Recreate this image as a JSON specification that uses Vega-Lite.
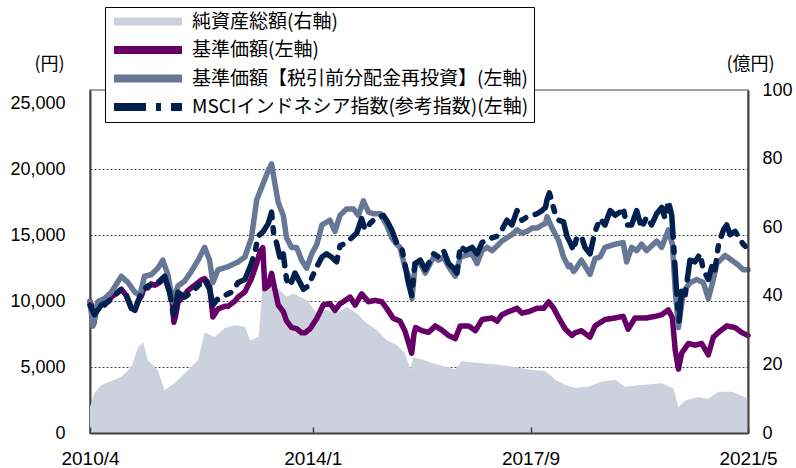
{
  "$schema": "https://vega.github.io/schema/vega-lite/v6.json",
  "width": 658,
  "height": 343,
  "autosize": {"type": "none"},
  "padding": {"left": 90, "top": 90, "right": 48, "bottom": 35},
  "background": "white",
  "config": {
    "font": "Liberation Sans",
    "view": {"stroke": "#a0a0a0", "strokeWidth": 2},
    "axis": {
      "labelFont": "Liberation Sans",
      "labelFontSize": 18,
      "labelColor": "#000000",
      "titleFont": "Noto Sans CJK JP",
      "titleFontSize": 18,
      "titleFontWeight": "normal",
      "titleColor": "#000000",
      "domainColor": "#404040",
      "domainWidth": 2
    }
  },
  "datasets": {
    "netAssets": [
      {"date": "2010-04-01", "value": 7.6}, {"date": "2010-04-29", "value": 11.7}, {"date": "2010-06-10", "value": 14}, {"date": "2010-08-31", "value": 15.5},
      {"date": "2010-10-11", "value": 16.4}, {"date": "2010-12-11", "value": 19.2}, {"date": "2011-01-22", "value": 25}, {"date": "2011-02-22", "value": 26.5},
      {"date": "2011-03-22", "value": 21.3}, {"date": "2011-05-23", "value": 18.4}, {"date": "2011-07-04", "value": 12.5}, {"date": "2011-09-04", "value": 14.6},
      {"date": "2011-11-25", "value": 18.4}, {"date": "2012-01-26", "value": 21.3}, {"date": "2012-03-06", "value": 29.4}, {"date": "2012-05-07", "value": 28},
      {"date": "2012-07-08", "value": 30.6}, {"date": "2012-09-08", "value": 31.5}, {"date": "2012-11-09", "value": 31}, {"date": "2012-12-11", "value": 27},
      {"date": "2013-02-01", "value": 28}, {"date": "2013-02-21", "value": 39.7}, {"date": "2013-03-02", "value": 48}, {"date": "2013-04-02", "value": 43.7},
      {"date": "2013-05-02", "value": 42.7}, {"date": "2013-06-12", "value": 41.7}, {"date": "2013-07-23", "value": 39.7}, {"date": "2013-09-03", "value": 40.7},
      {"date": "2013-10-14", "value": 39.7}, {"date": "2013-11-24", "value": 38.8}, {"date": "2014-01-26", "value": 34.9}, {"date": "2014-03-26", "value": 35.9},
      {"date": "2014-05-27", "value": 34.9}, {"date": "2014-07-27", "value": 36.8}, {"date": "2014-09-28", "value": 34.9}, {"date": "2014-11-28", "value": 32},
      {"date": "2015-01-29", "value": 30}, {"date": "2015-03-31", "value": 27.1}, {"date": "2015-05-31", "value": 25.7}, {"date": "2015-07-21", "value": 23.3},
      {"date": "2015-08-25", "value": 18.5}, {"date": "2015-09-10", "value": 22}, {"date": "2015-11-04", "value": 21.4}, {"date": "2016-01-04", "value": 20.4},
      {"date": "2016-03-25", "value": 19.4}, {"date": "2016-05-26", "value": 18.5}, {"date": "2016-07-06", "value": 20.9}, {"date": "2016-10-17", "value": 20.4},
      {"date": "2017-02-19", "value": 19.9}, {"date": "2017-05-10", "value": 19.4}, {"date": "2017-08-21", "value": 18.5}, {"date": "2017-12-02", "value": 18},
      {"date": "2018-02-02", "value": 15.5}, {"date": "2018-04-03", "value": 14}, {"date": "2018-06-03", "value": 13.2}, {"date": "2018-08-22", "value": 13.5},
      {"date": "2018-11-13", "value": 15}, {"date": "2019-02-04", "value": 15.5}, {"date": "2019-04-05", "value": 13.5}, {"date": "2019-07-16", "value": 14},
      {"date": "2019-11-17", "value": 14.5}, {"date": "2020-01-28", "value": 13}, {"date": "2020-02-28", "value": 7.6}, {"date": "2020-04-09", "value": 9.5},
      {"date": "2020-06-29", "value": 10.5}, {"date": "2020-08-30", "value": 10}, {"date": "2020-11-01", "value": 12}, {"date": "2021-01-21", "value": 12},
      {"date": "2021-04-12", "value": 10.5}, {"date": "2021-05-01", "value": 10}
    ],
    "nav": [
      {"date": "2010-04-01", "value": 10000}, {"date": "2010-04-12", "value": 9600}, {"date": "2010-04-25", "value": 8300}, {"date": "2010-05-10", "value": 9500},
      {"date": "2010-05-25", "value": 9800}, {"date": "2010-06-10", "value": 9900}, {"date": "2010-06-30", "value": 9700}, {"date": "2010-07-20", "value": 10000},
      {"date": "2010-08-10", "value": 10300}, {"date": "2010-08-31", "value": 10500}, {"date": "2010-10-11", "value": 10900}, {"date": "2010-11-11", "value": 10400},
      {"date": "2010-12-11", "value": 9500}, {"date": "2011-01-02", "value": 9300}, {"date": "2011-01-22", "value": 10000}, {"date": "2011-02-12", "value": 10400},
      {"date": "2011-03-02", "value": 11100}, {"date": "2011-03-22", "value": 11000}, {"date": "2011-04-13", "value": 11300}, {"date": "2011-05-03", "value": 11200},
      {"date": "2011-06-03", "value": 11400}, {"date": "2011-07-04", "value": 11800}, {"date": "2011-07-24", "value": 11100}, {"date": "2011-08-18", "value": 10200},
      {"date": "2011-08-30", "value": 8400}, {"date": "2011-09-10", "value": 8900}, {"date": "2011-09-24", "value": 9900}, {"date": "2011-10-14", "value": 10200},
      {"date": "2011-11-05", "value": 10500}, {"date": "2011-11-25", "value": 10800}, {"date": "2011-12-15", "value": 11000}, {"date": "2012-01-26", "value": 11400},
      {"date": "2012-02-15", "value": 11600}, {"date": "2012-03-06", "value": 11700}, {"date": "2012-03-26", "value": 11400}, {"date": "2012-04-06", "value": 11100},
      {"date": "2012-04-26", "value": 8800}, {"date": "2012-05-27", "value": 9400}, {"date": "2012-07-08", "value": 9600}, {"date": "2012-07-28", "value": 9600},
      {"date": "2012-09-08", "value": 10000}, {"date": "2012-09-28", "value": 10300}, {"date": "2012-11-09", "value": 10700}, {"date": "2012-12-19", "value": 11700},
      {"date": "2013-01-19", "value": 12800}, {"date": "2013-02-11", "value": 13800}, {"date": "2013-02-27", "value": 14050}, {"date": "2013-03-12", "value": 10950},
      {"date": "2013-04-02", "value": 11150}, {"date": "2013-04-22", "value": 12100}, {"date": "2013-05-12", "value": 10900}, {"date": "2013-06-02", "value": 9700},
      {"date": "2013-07-03", "value": 9200}, {"date": "2013-07-23", "value": 8500}, {"date": "2013-08-23", "value": 8000}, {"date": "2013-09-23", "value": 7900},
      {"date": "2013-10-24", "value": 7600}, {"date": "2013-11-14", "value": 7600}, {"date": "2013-12-15", "value": 7900}, {"date": "2014-01-26", "value": 8700},
      {"date": "2014-03-06", "value": 9700}, {"date": "2014-04-16", "value": 9800}, {"date": "2014-05-17", "value": 9300}, {"date": "2014-06-17", "value": 9800},
      {"date": "2014-07-07", "value": 9950}, {"date": "2014-08-18", "value": 10300}, {"date": "2014-09-18", "value": 9700}, {"date": "2014-10-28", "value": 10550},
      {"date": "2014-12-09", "value": 9950}, {"date": "2015-01-19", "value": 10050}, {"date": "2015-03-01", "value": 9950}, {"date": "2015-03-31", "value": 9450},
      {"date": "2015-05-10", "value": 8700}, {"date": "2015-06-21", "value": 8480}, {"date": "2015-07-21", "value": 7750}, {"date": "2015-08-21", "value": 6500},
      {"date": "2015-09-01", "value": 6050}, {"date": "2015-09-15", "value": 7500}, {"date": "2015-09-25", "value": 7990}, {"date": "2015-11-04", "value": 7750},
      {"date": "2015-12-14", "value": 7630}, {"date": "2016-01-24", "value": 8115}, {"date": "2016-03-05", "value": 7800}, {"date": "2016-04-15", "value": 7390},
      {"date": "2016-05-26", "value": 7150}, {"date": "2016-06-26", "value": 8115}, {"date": "2016-08-17", "value": 8115}, {"date": "2016-09-27", "value": 7750},
      {"date": "2016-11-07", "value": 8600}, {"date": "2017-01-08", "value": 8720}, {"date": "2017-02-08", "value": 8480}, {"date": "2017-03-09", "value": 8965},
      {"date": "2017-04-19", "value": 9200}, {"date": "2017-06-10", "value": 9450}, {"date": "2017-07-10", "value": 9090}, {"date": "2017-08-21", "value": 9200},
      {"date": "2017-10-11", "value": 9450}, {"date": "2017-11-21", "value": 9450}, {"date": "2017-12-22", "value": 9940}, {"date": "2018-01-22", "value": 9450},
      {"date": "2018-02-22", "value": 8720}, {"date": "2018-04-03", "value": 7870}, {"date": "2018-05-14", "value": 7400}, {"date": "2018-06-03", "value": 7600},
      {"date": "2018-07-11", "value": 7750}, {"date": "2018-09-02", "value": 7270}, {"date": "2018-10-03", "value": 8115}, {"date": "2018-12-03", "value": 8600},
      {"date": "2019-02-04", "value": 8720}, {"date": "2019-03-25", "value": 8840}, {"date": "2019-04-25", "value": 7870}, {"date": "2019-06-06", "value": 8720},
      {"date": "2019-08-16", "value": 8720}, {"date": "2019-10-07", "value": 8840}, {"date": "2019-11-17", "value": 8965}, {"date": "2019-12-28", "value": 9330},
      {"date": "2020-01-22", "value": 8720}, {"date": "2020-02-08", "value": 6300}, {"date": "2020-02-28", "value": 4840}, {"date": "2020-03-19", "value": 6050},
      {"date": "2020-04-29", "value": 6780}, {"date": "2020-06-09", "value": 6660}, {"date": "2020-07-20", "value": 6780}, {"date": "2020-08-30", "value": 5930},
      {"date": "2020-09-30", "value": 7270}, {"date": "2020-11-01", "value": 7630}, {"date": "2020-12-21", "value": 8115}, {"date": "2021-02-11", "value": 7990},
      {"date": "2021-03-22", "value": 7630}, {"date": "2021-05-01", "value": 7390}
    ],
    "navReinvested": [
      {"date": "2010-04-01", "value": 9950}, {"date": "2010-04-19", "value": 8100}, {"date": "2010-05-19", "value": 9950}, {"date": "2010-06-30", "value": 10200},
      {"date": "2010-08-10", "value": 10670}, {"date": "2010-10-11", "value": 11880}, {"date": "2010-11-21", "value": 11400}, {"date": "2011-01-02", "value": 10670},
      {"date": "2011-02-02", "value": 10420}, {"date": "2011-03-02", "value": 11880}, {"date": "2011-04-13", "value": 12000}, {"date": "2011-05-23", "value": 12490},
      {"date": "2011-06-23", "value": 13100}, {"date": "2011-07-24", "value": 12000}, {"date": "2011-08-24", "value": 9940}, {"date": "2011-09-24", "value": 11150},
      {"date": "2011-11-05", "value": 11520}, {"date": "2011-12-15", "value": 12250}, {"date": "2012-01-26", "value": 13100}, {"date": "2012-03-06", "value": 14070},
      {"date": "2012-04-06", "value": 13100}, {"date": "2012-04-26", "value": 11400}, {"date": "2012-05-27", "value": 12370}, {"date": "2012-07-28", "value": 12610},
      {"date": "2012-09-28", "value": 12970}, {"date": "2012-11-09", "value": 13340}, {"date": "2012-12-19", "value": 14800}, {"date": "2013-01-21", "value": 17700},
      {"date": "2013-03-02", "value": 18930}, {"date": "2013-04-02", "value": 19900}, {"date": "2013-04-22", "value": 20400}, {"date": "2013-05-12", "value": 18930},
      {"date": "2013-06-02", "value": 17470}, {"date": "2013-07-03", "value": 16500}, {"date": "2013-07-23", "value": 14800}, {"date": "2013-08-23", "value": 14070},
      {"date": "2013-09-23", "value": 14070}, {"date": "2013-10-24", "value": 13100}, {"date": "2013-11-24", "value": 12490}, {"date": "2013-12-25", "value": 13580},
      {"date": "2014-01-26", "value": 14310}, {"date": "2014-02-26", "value": 15770}, {"date": "2014-04-16", "value": 16130}, {"date": "2014-05-17", "value": 15280},
      {"date": "2014-06-17", "value": 16500}, {"date": "2014-07-27", "value": 16980}, {"date": "2014-09-08", "value": 16980}, {"date": "2014-10-08", "value": 16500},
      {"date": "2014-11-08", "value": 17590}, {"date": "2014-12-09", "value": 16740}, {"date": "2015-01-09", "value": 16620}, {"date": "2015-02-19", "value": 16620},
      {"date": "2015-03-31", "value": 15770}, {"date": "2015-05-01", "value": 14800}, {"date": "2015-05-31", "value": 14310}, {"date": "2015-06-21", "value": 14070},
      {"date": "2015-07-21", "value": 12610}, {"date": "2015-08-21", "value": 11650}, {"date": "2015-09-03", "value": 10200}, {"date": "2015-09-23", "value": 12850},
      {"date": "2015-10-24", "value": 12850}, {"date": "2015-11-24", "value": 12120}, {"date": "2015-12-24", "value": 12850}, {"date": "2016-01-14", "value": 13340},
      {"date": "2016-02-14", "value": 13100}, {"date": "2016-03-15", "value": 13340}, {"date": "2016-04-15", "value": 12610}, {"date": "2016-05-26", "value": 11880},
      {"date": "2016-06-26", "value": 13340}, {"date": "2016-07-27", "value": 13460}, {"date": "2016-09-07", "value": 13580}, {"date": "2016-10-07", "value": 12850},
      {"date": "2016-11-07", "value": 13825}, {"date": "2016-12-08", "value": 14070}, {"date": "2017-01-08", "value": 13825}, {"date": "2017-02-08", "value": 14190},
      {"date": "2017-03-09", "value": 14550}, {"date": "2017-04-09", "value": 14800}, {"date": "2017-05-10", "value": 15040}, {"date": "2017-06-10", "value": 15400},
      {"date": "2017-07-10", "value": 15160}, {"date": "2017-08-10", "value": 15280}, {"date": "2017-09-11", "value": 15530}, {"date": "2017-10-11", "value": 15530},
      {"date": "2017-11-11", "value": 15770}, {"date": "2017-12-02", "value": 15890}, {"date": "2017-12-12", "value": 16380}, {"date": "2018-01-12", "value": 15530},
      {"date": "2018-02-22", "value": 14550}, {"date": "2018-03-23", "value": 13340}, {"date": "2018-04-23", "value": 12610}, {"date": "2018-05-03", "value": 12730},
      {"date": "2018-05-24", "value": 12250}, {"date": "2018-06-03", "value": 12370}, {"date": "2018-07-11", "value": 13100}, {"date": "2018-09-02", "value": 12030},
      {"date": "2018-10-03", "value": 13220}, {"date": "2018-11-03", "value": 13340}, {"date": "2018-12-03", "value": 14070}, {"date": "2019-02-04", "value": 14310},
      {"date": "2019-03-25", "value": 14430}, {"date": "2019-04-15", "value": 12970}, {"date": "2019-05-16", "value": 14070}, {"date": "2019-06-16", "value": 13825},
      {"date": "2019-07-16", "value": 14310}, {"date": "2019-08-16", "value": 13825}, {"date": "2019-10-17", "value": 14550}, {"date": "2019-11-17", "value": 14070},
      {"date": "2019-12-28", "value": 15400}, {"date": "2020-01-22", "value": 14310}, {"date": "2020-02-08", "value": 10900}, {"date": "2020-02-28", "value": 7990},
      {"date": "2020-03-29", "value": 10670}, {"date": "2020-05-09", "value": 11400}, {"date": "2020-06-19", "value": 11640}, {"date": "2020-07-30", "value": 11400},
      {"date": "2020-08-30", "value": 10180}, {"date": "2020-09-30", "value": 11640}, {"date": "2020-10-21", "value": 12850}, {"date": "2020-12-11", "value": 13460},
      {"date": "2021-01-21", "value": 13100}, {"date": "2021-03-02", "value": 12730}, {"date": "2021-04-02", "value": 12370}, {"date": "2021-05-01", "value": 12370}
    ],
    "msci": [
      {"date": "2010-04-01", "value": 9700}, {"date": "2010-04-29", "value": 8965}, {"date": "2010-06-10", "value": 9700}, {"date": "2010-07-20", "value": 9940},
      {"date": "2010-08-31", "value": 10420}, {"date": "2010-10-11", "value": 10900}, {"date": "2010-11-11", "value": 10420}, {"date": "2010-12-11", "value": 9450},
      {"date": "2011-01-02", "value": 9330}, {"date": "2011-02-12", "value": 10670}, {"date": "2011-03-22", "value": 11150}, {"date": "2011-05-03", "value": 11270},
      {"date": "2011-06-03", "value": 11520}, {"date": "2011-07-04", "value": 11880}, {"date": "2011-08-04", "value": 10670}, {"date": "2011-08-30", "value": 8720},
      {"date": "2011-09-24", "value": 10670}, {"date": "2011-11-05", "value": 10300}, {"date": "2011-12-15", "value": 10670}, {"date": "2012-01-26", "value": 11150},
      {"date": "2012-03-06", "value": 11640}, {"date": "2012-04-06", "value": 10900}, {"date": "2012-04-26", "value": 9700}, {"date": "2012-05-27", "value": 10180},
      {"date": "2012-07-08", "value": 10420}, {"date": "2012-08-18", "value": 10670}, {"date": "2012-09-28", "value": 11400}, {"date": "2012-11-09", "value": 11640},
      {"date": "2012-12-19", "value": 12850}, {"date": "2013-01-11", "value": 13825}, {"date": "2013-02-01", "value": 14950}, {"date": "2013-03-02", "value": 15280},
      {"date": "2013-04-02", "value": 15890}, {"date": "2013-04-22", "value": 16740}, {"date": "2013-05-06", "value": 15000}, {"date": "2013-05-22", "value": 14430},
      {"date": "2013-06-12", "value": 13340}, {"date": "2013-07-03", "value": 13580}, {"date": "2013-07-23", "value": 11640}, {"date": "2013-08-13", "value": 11150},
      {"date": "2013-09-13", "value": 12120}, {"date": "2013-10-14", "value": 11400}, {"date": "2013-11-04", "value": 10900}, {"date": "2013-12-05", "value": 11150},
      {"date": "2013-12-25", "value": 11760}, {"date": "2014-01-26", "value": 12610}, {"date": "2014-02-26", "value": 13340}, {"date": "2014-03-26", "value": 13580},
      {"date": "2014-04-26", "value": 13340}, {"date": "2014-05-27", "value": 12970}, {"date": "2014-06-17", "value": 14190}, {"date": "2014-07-27", "value": 14430},
      {"date": "2014-08-28", "value": 14800}, {"date": "2014-09-28", "value": 15160}, {"date": "2014-10-28", "value": 16250}, {"date": "2014-11-18", "value": 15400},
      {"date": "2014-12-19", "value": 15890}, {"date": "2015-01-19", "value": 16250}, {"date": "2015-02-19", "value": 16400}, {"date": "2015-03-10", "value": 16500},
      {"date": "2015-03-31", "value": 16130}, {"date": "2015-05-01", "value": 15400}, {"date": "2015-05-31", "value": 14430}, {"date": "2015-07-01", "value": 14070},
      {"date": "2015-07-21", "value": 12850}, {"date": "2015-08-11", "value": 11400}, {"date": "2015-09-01", "value": 10420}, {"date": "2015-09-21", "value": 12850},
      {"date": "2015-10-24", "value": 13100}, {"date": "2015-11-24", "value": 12370}, {"date": "2015-12-24", "value": 13100}, {"date": "2016-01-14", "value": 13580},
      {"date": "2016-02-14", "value": 13340}, {"date": "2016-03-15", "value": 13825}, {"date": "2016-04-15", "value": 12850}, {"date": "2016-05-16", "value": 12490},
      {"date": "2016-06-06", "value": 12120}, {"date": "2016-06-26", "value": 14190}, {"date": "2016-07-27", "value": 13825}, {"date": "2016-09-07", "value": 14070},
      {"date": "2016-10-07", "value": 13580}, {"date": "2016-11-07", "value": 14430}, {"date": "2016-12-08", "value": 14680}, {"date": "2017-01-08", "value": 14800},
      {"date": "2017-02-08", "value": 14920}, {"date": "2017-03-09", "value": 15400}, {"date": "2017-04-09", "value": 16130}, {"date": "2017-05-10", "value": 15770},
      {"date": "2017-06-10", "value": 16860}, {"date": "2017-07-10", "value": 16130}, {"date": "2017-08-10", "value": 16380}, {"date": "2017-09-11", "value": 16500},
      {"date": "2017-10-11", "value": 16620}, {"date": "2017-11-11", "value": 16860}, {"date": "2017-12-02", "value": 17100}, {"date": "2017-12-12", "value": 17700},
      {"date": "2017-12-26", "value": 18200}, {"date": "2018-01-12", "value": 17470}, {"date": "2018-02-02", "value": 16500}, {"date": "2018-02-22", "value": 16130},
      {"date": "2018-03-23", "value": 16000}, {"date": "2018-04-13", "value": 14920}, {"date": "2018-05-03", "value": 14430}, {"date": "2018-05-24", "value": 13825},
      {"date": "2018-06-14", "value": 14920}, {"date": "2018-07-14", "value": 14800}, {"date": "2018-08-02", "value": 14070}, {"date": "2018-09-02", "value": 13580},
      {"date": "2018-10-03", "value": 15280}, {"date": "2018-11-03", "value": 16250}, {"date": "2018-12-03", "value": 15770}, {"date": "2019-01-04", "value": 16860},
      {"date": "2019-02-04", "value": 16500}, {"date": "2019-03-05", "value": 16740}, {"date": "2019-03-25", "value": 17100}, {"date": "2019-04-15", "value": 15770},
      {"date": "2019-05-16", "value": 15770}, {"date": "2019-06-16", "value": 16860}, {"date": "2019-07-16", "value": 15530}, {"date": "2019-08-16", "value": 16380},
      {"date": "2019-09-16", "value": 15770}, {"date": "2019-10-17", "value": 16620}, {"date": "2019-11-17", "value": 17100}, {"date": "2019-12-08", "value": 16250},
      {"date": "2019-12-28", "value": 17590}, {"date": "2020-01-18", "value": 16500}, {"date": "2020-02-02", "value": 13580}, {"date": "2020-02-18", "value": 10420},
      {"date": "2020-03-03", "value": 8480}, {"date": "2020-03-19", "value": 10900}, {"date": "2020-04-09", "value": 10420}, {"date": "2020-05-09", "value": 13100},
      {"date": "2020-06-09", "value": 12970}, {"date": "2020-07-10", "value": 13580}, {"date": "2020-07-30", "value": 12370}, {"date": "2020-08-30", "value": 11640},
      {"date": "2020-09-20", "value": 12610}, {"date": "2020-10-10", "value": 12370}, {"date": "2020-11-01", "value": 14310}, {"date": "2020-12-01", "value": 15400},
      {"date": "2020-12-21", "value": 15770}, {"date": "2021-01-11", "value": 15040}, {"date": "2021-02-11", "value": 15280}, {"date": "2021-03-12", "value": 14680},
      {"date": "2021-04-02", "value": 14310}, {"date": "2021-05-01", "value": 13950}
    ]
  },
  "layer": [
    {
      "data": {"name": "netAssets"},
      "mark": {"type": "area", "color": "#CBD2DD"},
      "encoding": {
        "x": {
          "field": "date",
          "type": "temporal",
          "scale": {"type": "utc", "domain": [{"year": 2010, "month": 4, "date": 1, "utc": true}, {"year": 2021, "month": 5, "date": 1, "utc": true}]},
          "axis": {
            "title": null,
            "values": [
              {"year": 2010, "month": 4, "date": 1, "utc": true},
              {"year": 2014, "month": 1, "date": 1, "utc": true},
              {"year": 2017, "month": 9, "date": 1, "utc": true},
              {"year": 2021, "month": 5, "date": 1, "utc": true}
            ],
            "format": "%Y/%-m",
            "labelFontSize": 19,
            "grid": false,
            "ticks": true,
            "tickSize": -6,
            "tickColor": "#404040",
            "tickWidth": 1.5,
            "labelPadding": 22,
            "labelFlush": false,
            "labelOverlap": false,
            "zindex": 1
          }
        },
        "y": {
          "field": "value",
          "type": "quantitative",
          "scale": {"domain": [0, 100]},
          "axis": {
            "orient": "right",
            "title": "(億円)",
            "titleAngle": 0,
            "titleAlign": "center",
            "titleBaseline": "middle",
            "titleX": 2,
            "titleY": -26,
            "values": [0, 20, 40, 60, 80, 100],
            "format": "d",
            "grid": false,
            "ticks": false,
            "labelPadding": 14,
            "zindex": 1
          }
        }
      }
    },
    {
      "layer": [
        {
          "data": {"name": "nav"},
          "mark": {"type": "line", "strokeWidth": 5.5, "strokeCap": "round", "strokeJoin": "round"},
          "encoding": {
            "x": {"field": "date", "type": "temporal"},
            "y": {
              "field": "value",
              "type": "quantitative",
              "scale": {"domain": [0, 25000]},
              "axis": {
                "orient": "left",
                "title": "(円)",
                "titleAngle": 0,
                "titleAlign": "center",
                "titleBaseline": "middle",
                "titleX": -41,
                "titleY": -26,
                "values": [0, 5000, 10000, 15000, 20000, 25000],
                "format": ",d",
                "ticks": false,
                "labelPadding": 25,
                "grid": true,
                "gridColor": "#404040",
                "gridDash": [2, 2],
                "gridWidth": 1,
                "gridOpacity": {"condition": {"test": "datum.value === 0 || datum.value === 25000", "value": 0}, "value": 1}
              }
            },
            "color": {
              "datum": "基準価額(左軸)",
              "scale": {
                "domain": ["純資産総額(右軸)", "基準価額(左軸)", "基準価額【税引前分配金再投資】(左軸)", "MSCIインドネシア指数(参考指数)(左軸)"],
                "range": ["#CBD2DD", "#660066", "#667896", "#00204E"]
              },
              "legend": {
                "title": null,
                "orient": "none",
                "legendX": 15,
                "legendY": -83,
                "symbolType": "stroke",
                "symbolSize": 4624,
                "symbolStrokeWidth": 8,
                "clipHeight": 19,
                "rowPadding": 8.5,
                "labelOffset": 6,
                "labelFont": "Noto Sans CJK JP",
                "labelFontSize": 19,
                "labelColor": "#000000",
                "labelLimit": 500,
                "padding": 5,
                "strokeColor": "#000000",
                "fillColor": "#ffffff"
              }
            },
            "strokeDash": {
              "datum": "基準価額(左軸)",
              "scale": {
                "domain": ["純資産総額(右軸)", "基準価額(左軸)", "基準価額【税引前分配金再投資】(左軸)", "MSCIインドネシア指数(参考指数)(左軸)"],
                "range": [[1, 0], [1, 0], [1, 0], [32, 10, 5, 10]]
              }
            }
          }
        },
        {
          "data": {"name": "navReinvested"},
          "mark": {"type": "line", "strokeWidth": 5.5, "strokeCap": "round", "strokeJoin": "round"},
          "encoding": {
            "x": {"field": "date", "type": "temporal"},
            "y": {"field": "value", "type": "quantitative"},
            "color": {"datum": "基準価額【税引前分配金再投資】(左軸)"},
            "strokeDash": {"datum": "基準価額【税引前分配金再投資】(左軸)"}
          }
        },
        {
          "data": {"name": "msci"},
          "mark": {"type": "line", "strokeWidth": 5.5, "strokeCap": "round", "strokeJoin": "round"},
          "encoding": {
            "x": {"field": "date", "type": "temporal"},
            "y": {"field": "value", "type": "quantitative"},
            "color": {"datum": "MSCIインドネシア指数(参考指数)(左軸)"},
            "strokeDash": {"datum": "MSCIインドネシア指数(参考指数)(左軸)"}
          }
        }
      ]
    }
  ],
  "resolve": {"scale": {"y": "independent"}}
}
